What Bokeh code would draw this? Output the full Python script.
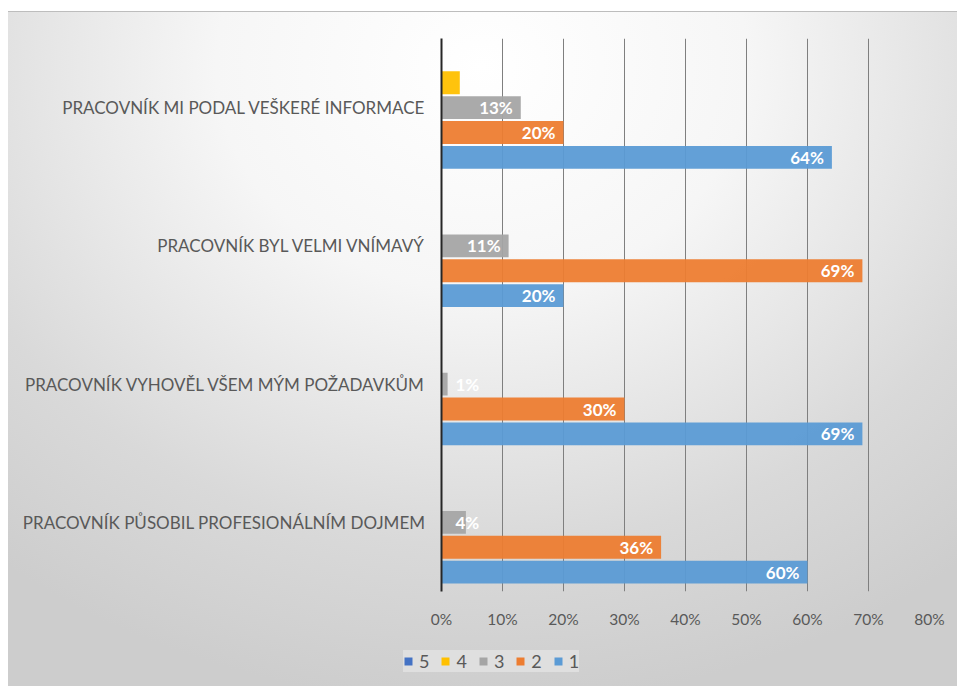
from bokeh.plotting import figure
from bokeh.models import (ColumnDataSource, FactorRange, Range1d, NumeralTickFormatter,
                          Legend, LegendItem, FixedTicker, InlineStyleSheet)
from bokeh.transform import dodge
from bokeh.core.properties import value
from bokeh.embed import file_html
from bokeh.resources import INLINE

# categories, bottom to top
categories = [
    "PRACOVNÍK PŮSOBIL PROFESIONÁLNÍM DOJMEM",
    "PRACOVNÍK VYHOVĚL VŠEM MÝM POŽADAVKŮM",
    "PRACOVNÍK BYL VELMI VNÍMAVÝ",
    "PRACOVNÍK MI PODAL VEŠKERÉ INFORMACE",
]
series_names = ["1", "2", "3", "4", "5"]
s1 = [60, 69, 20, 64]
s2 = [36, 30, 69, 20]
s3 = [4, 1, 11, 13]
s4 = [0, 0, 0, 3]
s5 = [0, 0, 0, 0]
series_values = [s1, s2, s3, s4, s5]
series_colors = ["#5B9BD5", "#ED7D31", "#A5A5A5", "#FFC000", "#4472C4"]
labelled_series = [0, 1, 2]
legend_order = ["5", "4", "3", "2", "1"]
x_ticks = [0, 10, 20, 30, 40, 50, 60, 70, 80]

FONT = "Lato"
W = 949
H_MAIN, H_LEG = 625, 50

STOPS = "#ffffff 0%, #f6f6f6 35%, #d9d9d9 75%, #cdcdcd 100%"
css_main = InlineStyleSheet(css=f"""
:host {{
  background: radial-gradient(760px 640px at 474px 54px, {STOPS});
  border-top: 1px solid #bdbdbd;
  box-sizing: border-box;
}}
""")
css_leg = InlineStyleSheet(css=f"""
:host {{
  background: radial-gradient(760px 640px at 474px -571px, {STOPS});
}}
""")

p = figure(width=W, height=H_MAIN, output_backend="svg", toolbar_location=None,
           y_range=FactorRange(*categories, range_padding=0),
           x_range=Range1d(0, 0.8),
           min_border_left=433, min_border_right=28, min_border_top=26, min_border_bottom=46)
p.margin = (11, 0, 0, 8)
p.stylesheets = [css_main]
p.background_fill_color = None
p.border_fill_color = None
p.outline_line_color = None

p.ygrid.grid_line_color = None
p.xgrid.grid_line_color = "#7f7f7f"
p.xgrid.grid_line_width = 1
p.xgrid.ticker = FixedTicker(ticks=[t / 100 for t in x_ticks])

slot = 0.18
bar_h = 0.165
offsets = [-2 * slot, -slot, 0, slot, 2 * slot]

for i, (name, vals, col) in enumerate(zip(series_names, series_values, series_colors)):
    src = ColumnDataSource(dict(cat=categories, v=[v / 100 for v in vals]))
    p.hbar(y=dodge("cat", offsets[i], range=p.y_range), left=0, right="v",
           height=bar_h, source=src, fill_color=col, line_color=None, fill_alpha=0.95)
    if i in labelled_series:
        lab = ColumnDataSource(dict(
            cat=categories,
            x=[max(v / 100, 0.075) for v in vals],
            t=[f"{v}%" for v in vals]))
        p.text(x="x", y=dodge("cat", offsets[i], range=p.y_range), text="t", source=lab,
               text_align="right", text_baseline="middle", x_offset=-8,
               text_color="white", text_font=value(FONT), text_font_style="bold",
               text_font_size="17px")

# y axis
p.yaxis.axis_line_color = "#262626"
p.yaxis.axis_line_width = 2
p.yaxis.major_tick_line_color = None
p.yaxis.minor_tick_line_color = None
p.yaxis.major_label_standoff = 10
p.yaxis.major_label_text_font = FONT
p.yaxis.major_label_text_font_size = "17px"
p.yaxis.major_label_text_color = "#595959"

# x axis
p.xaxis.ticker = FixedTicker(ticks=[t / 100 for t in x_ticks])
p.xaxis.formatter = NumeralTickFormatter(format="0%")
p.xaxis.axis_line_color = None
p.xaxis.major_tick_line_color = None
p.xaxis.minor_tick_line_color = None
p.xaxis.major_label_standoff = 12
p.xaxis.major_label_text_font = FONT
p.xaxis.major_label_text_font_size = "15.5px"
p.xaxis.major_label_text_color = "#595959"

# legend strip (separate root so its frame spans the full width)
pl = figure(width=W, height=H_LEG, output_backend="svg", toolbar_location=None,
            x_axis_location=None, y_axis_location=None,
            x_range=Range1d(0, 1), y_range=Range1d(0, 1),
            min_border_left=0, min_border_right=0, min_border_top=0, min_border_bottom=0)
pl.margin = (0, 0, 0, 8)
pl.stylesheets = [css_leg]
pl.background_fill_color = None
pl.border_fill_color = None
pl.outline_line_color = None
pl.grid.visible = False
leg_renderers = {}
for name, col in zip(series_names, series_colors):
    leg_renderers[name] = pl.hbar(y=[-5], left=[0], right=[0], height=0.1,
                                  fill_color=col, line_color=None)
items = [LegendItem(label=n, renderers=[leg_renderers[n]]) for n in legend_order]
legend = Legend(items=items, orientation="horizontal", location=(395, 14),
                label_text_font=FONT, label_text_font_size="18px", label_text_color="#595959",
                glyph_width=10, glyph_height=10, spacing=11, label_standoff=6, label_width=10,
                background_fill_color="#e2e2e2", background_fill_alpha=0.8,
                border_line_color=None, padding=8, margin=0)
pl.add_layout(legend, "center")

open("out.html", "w").write(file_html([p, pl], INLINE))
